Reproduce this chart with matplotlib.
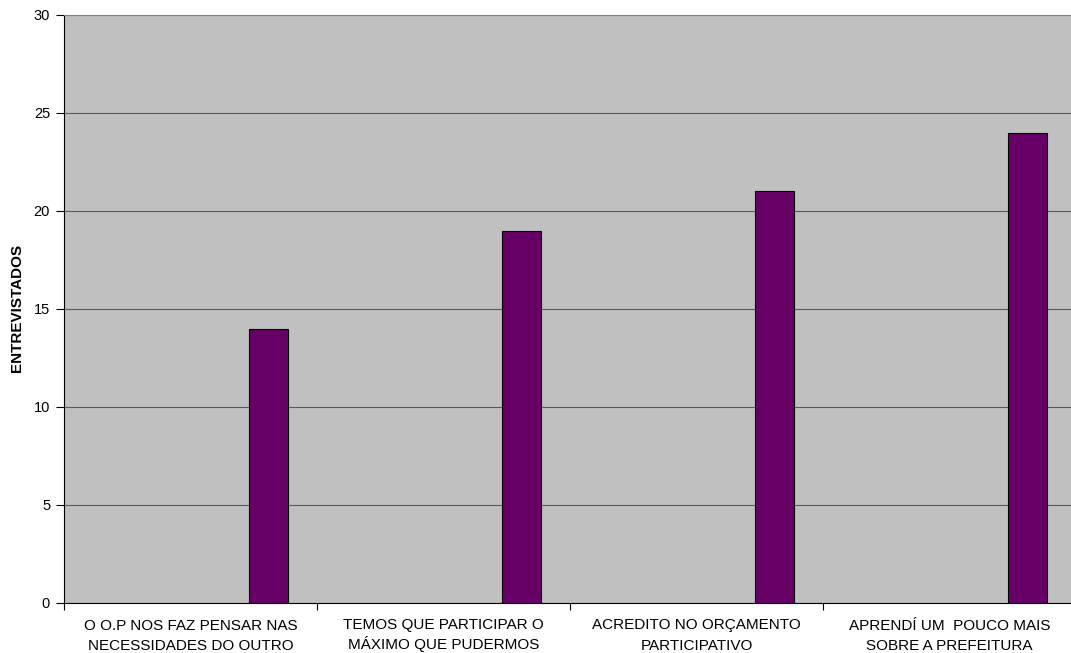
import matplotlib
matplotlib.use("Agg")
import matplotlib.pyplot as plt
import numpy as np

categories = [
    "O O.P NOS FAZ PENSAR NAS\nNECESSIDADES DO OUTRO",
    "TEMOS QUE PARTICIPAR O\nMÁXIMO QUE PUDERMOS",
    "ACREDITO NO ORÇAMENTO\nPARTICIPATIVO",
    "APRENDÍ UM  POUCO MAIS\nSOBRE A PREFEITURA",
]
values = [14, 19, 21, 24]
y_ticks = [0, 5, 10, 15, 20, 25, 30]

plt.rcParams["font.family"] = ["Liberation Sans", "DejaVu Sans"]

W, H = 1071, 653
fig = plt.figure(figsize=(W / 100, H / 100), dpi=100)
ax = fig.add_axes([64 / W, 50 / H, 1012 / W, 588 / H])
ax.set_facecolor("#C0C0C0")

x = np.arange(len(categories))
ax.bar(x + 0.308, values, width=0.154, color="#660066",
       edgecolor="black", linewidth=0.8, zorder=3)

ax.set_xlim(-0.5, len(categories) - 0.5)
ax.set_ylim(0, 30)
ax.set_yticks(y_ticks)
ax.set_yticklabels([str(t) for t in y_ticks], fontsize=10.5)
ax.yaxis.grid(True, color="#5a5a5a", linewidth=0.8, zorder=1)
ax.set_axisbelow(True)

# Tick marks at the category boundaries
ax.set_xticks(np.arange(len(categories) + 1) - 0.5)
ax.set_xticklabels([])
ax.tick_params(axis="x", which="major", length=5, width=0.8, direction="out")
ax.tick_params(axis="y", length=6, width=0.8, direction="out", pad=4)

# Category labels, one line at a time with an even line pitch
axes_h = 588
baseline_px = [26.5, 46.5]  # below the x axis
for i, label in enumerate(categories):
    for j, line in enumerate(label.split("\n")):
        ax.text(i, -baseline_px[j] / axes_h, line,
                transform=ax.get_xaxis_transform(),
                ha="center", va="baseline", fontsize=11, clip_on=False)

ax.spines["left"].set_color("black")
ax.spines["bottom"].set_color("black")
ax.spines["top"].set_color("#808080")
ax.spines["right"].set_visible(False)
for s in ax.spines.values():
    s.set_linewidth(0.8)

fig.text(17 / W, 1 - 308 / H, "ENTREVISTADOS", rotation=90,
         ha="center", va="center", fontsize=11, fontweight="bold")

fig.savefig("out.png", dpi=100, facecolor="white")
